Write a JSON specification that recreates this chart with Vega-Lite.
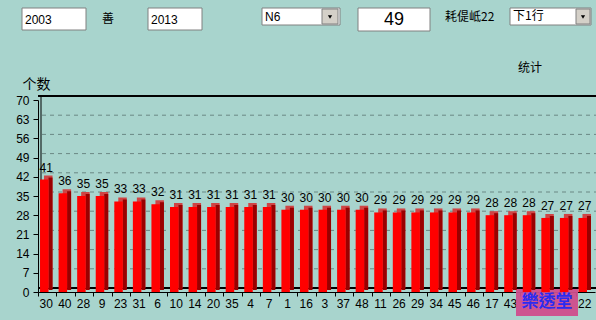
{
  "$schema": "https://vega.github.io/schema/vega-lite/v6.json",
  "width": 557,
  "height": 192,
  "autosize": {"type": "none"},
  "padding": {"left": 38, "top": 100, "right": 1, "bottom": 28},
  "background": "#a8d4cd",
  "config": {
    "view": {"stroke": null},
    "font": "Liberation Sans",
    "axis": {"labelFont": "Liberation Sans", "labelFontSize": 12, "labelColor": "#000", "domainColor": "#000", "tickColor": "#000", "grid": false},
    "axisX": {"bandPosition": 0, "labelOffset": -1, "tickSize": 4, "labelPadding": 2, "labelAngle": 0, "zindex": 1, "labelExpr": "indexof(['41','12','25'], datum.value) >= 0 ? '' : datum.label"},
    "axisY": {"tickSize": 5, "labelPadding": 4, "titleAngle": 0, "titleX": -16, "titleY": -9, "titleAlign": "left", "titleBaseline": "bottom", "titleFont": "Noto Sans CJK SC", "titleFontSize": 14, "titleFontWeight": "normal", "titleColor": "#000"}
  },
  "datasets": {
    "bars": [
      {"num": "30", "count": 41}, {"num": "40", "count": 36}, {"num": "28", "count": 35}, {"num": "9", "count": 35},
      {"num": "23", "count": 33}, {"num": "31", "count": 33}, {"num": "6", "count": 32}, {"num": "10", "count": 31},
      {"num": "14", "count": 31}, {"num": "20", "count": 31}, {"num": "35", "count": 31}, {"num": "4", "count": 31},
      {"num": "7", "count": 31}, {"num": "1", "count": 30}, {"num": "16", "count": 30}, {"num": "3", "count": 30},
      {"num": "37", "count": 30}, {"num": "48", "count": 30}, {"num": "11", "count": 29}, {"num": "26", "count": 29},
      {"num": "29", "count": 29}, {"num": "34", "count": 29}, {"num": "45", "count": 29}, {"num": "46", "count": 29},
      {"num": "17", "count": 28}, {"num": "43", "count": 28}, {"num": "41", "count": 28}, {"num": "12", "count": 27},
      {"num": "25", "count": 27}, {"num": "22", "count": 27}
    ],
    "grid": [{"level": 7}, {"level": 14}, {"level": 21}, {"level": 28}, {"level": 35}, {"level": 42}, {"level": 49}, {"level": 56}, {"level": 63}]
  },
  "layer": [
    {
      "data": {"values": [{"k": 1}]},
      "layer": [
        {
          "mark": {"type": "rect", "fill": "#ffffff", "stroke": "#808080", "strokeWidth": 1},
          "encoding": {
            "x": {"datum": 22, "type": "quantitative", "scale": {"domain": [38, 595], "nice": false, "zero": false}, "axis": null},
            "x2": {"datum": 86},
            "y": {"datum": 8, "type": "quantitative", "scale": {"domain": [292, 100], "nice": false, "zero": false}, "axis": null},
            "y2": {"datum": 30}
          }
        },
        {
          "mark": {"type": "rect", "fill": "#ffffff", "stroke": "#808080", "strokeWidth": 1},
          "encoding": {"x": {"datum": 148, "type": "quantitative"}, "x2": {"datum": 202}, "y": {"datum": 8, "type": "quantitative"}, "y2": {"datum": 30}}
        },
        {
          "mark": {"type": "rect", "fill": "#ffffff", "stroke": "#808080", "strokeWidth": 1},
          "encoding": {"x": {"datum": 262, "type": "quantitative"}, "x2": {"datum": 340}, "y": {"datum": 8, "type": "quantitative"}, "y2": {"datum": 25}}
        },
        {
          "mark": {"type": "rect", "fill": "#d4d0c8", "stroke": "#808080", "strokeWidth": 1},
          "encoding": {"x": {"datum": 322, "type": "quantitative"}, "x2": {"datum": 338}, "y": {"datum": 9, "type": "quantitative"}, "y2": {"datum": 24}}
        },
        {
          "mark": {"type": "rect", "fill": "#ffffff", "stroke": "#808080", "strokeWidth": 1},
          "encoding": {"x": {"datum": 358, "type": "quantitative"}, "x2": {"datum": 430}, "y": {"datum": 8, "type": "quantitative"}, "y2": {"datum": 31}}
        },
        {
          "mark": {"type": "rect", "fill": "#ffffff", "stroke": "#808080", "strokeWidth": 1},
          "encoding": {"x": {"datum": 510, "type": "quantitative"}, "x2": {"datum": 591}, "y": {"datum": 8, "type": "quantitative"}, "y2": {"datum": 25}}
        },
        {
          "mark": {"type": "rect", "fill": "#d4d0c8", "stroke": "#808080", "strokeWidth": 1},
          "encoding": {"x": {"datum": 576, "type": "quantitative"}, "x2": {"datum": 590}, "y": {"datum": 9, "type": "quantitative"}, "y2": {"datum": 24}}
        },
        {
          "mark": {"type": "point", "shape": "triangle-down", "filled": true, "color": "#000", "size": 18, "opacity": 1},
          "encoding": {"x": {"datum": 330, "type": "quantitative"}, "y": {"datum": 17, "type": "quantitative"}}
        },
        {
          "mark": {"type": "point", "shape": "triangle-down", "filled": true, "color": "#000", "size": 18, "opacity": 1},
          "encoding": {"x": {"datum": 583, "type": "quantitative"}, "y": {"datum": 17, "type": "quantitative"}}
        },
        {
          "data": {"values": [{"t": "2003"}]},
          "mark": {"type": "text", "align": "left", "baseline": "middle", "fontSize": 12, "color": "#000"},
          "encoding": {"x": {"datum": 25, "type": "quantitative"}, "y": {"datum": 19.5, "type": "quantitative"}, "text": {"field": "t"}}
        },
        {
          "data": {"values": [{"t": "善"}]},
          "mark": {"type": "text", "align": "center", "baseline": "middle", "fontSize": 12, "font": "Noto Sans CJK SC", "color": "#000"},
          "encoding": {"x": {"datum": 108, "type": "quantitative"}, "y": {"datum": 19, "type": "quantitative"}, "text": {"field": "t"}}
        },
        {
          "data": {"values": [{"t": "2013"}]},
          "mark": {"type": "text", "align": "left", "baseline": "middle", "fontSize": 12, "color": "#000"},
          "encoding": {"x": {"datum": 151, "type": "quantitative"}, "y": {"datum": 19.5, "type": "quantitative"}, "text": {"field": "t"}}
        },
        {
          "data": {"values": [{"t": "N6"}]},
          "mark": {"type": "text", "align": "left", "baseline": "middle", "fontSize": 12, "color": "#000"},
          "encoding": {"x": {"datum": 265, "type": "quantitative"}, "y": {"datum": 16.5, "type": "quantitative"}, "text": {"field": "t"}}
        },
        {
          "data": {"values": [{"t": "49"}]},
          "mark": {"type": "text", "align": "center", "baseline": "middle", "fontSize": 18, "color": "#000"},
          "encoding": {"x": {"datum": 394, "type": "quantitative"}, "y": {"datum": 19.5, "type": "quantitative"}, "text": {"field": "t"}}
        },
        {
          "data": {"values": [{"t": "耗偍岻22"}]},
          "mark": {"type": "text", "align": "left", "baseline": "middle", "fontSize": 12, "font": "Noto Sans CJK SC", "color": "#000"},
          "encoding": {"x": {"datum": 445, "type": "quantitative"}, "y": {"datum": 17, "type": "quantitative"}, "text": {"field": "t"}}
        },
        {
          "data": {"values": [{"t": "下1行"}]},
          "mark": {"type": "text", "align": "left", "baseline": "middle", "fontSize": 12, "font": "Noto Sans CJK SC", "color": "#000"},
          "encoding": {"x": {"datum": 513, "type": "quantitative"}, "y": {"datum": 16, "type": "quantitative"}, "text": {"field": "t"}}
        },
        {
          "data": {"values": [{"t": "统计"}]},
          "mark": {"type": "text", "align": "center", "baseline": "middle", "fontSize": 12, "font": "Noto Sans CJK SC", "color": "#000"},
          "encoding": {"x": {"datum": 530, "type": "quantitative"}, "y": {"datum": 68, "type": "quantitative"}, "text": {"field": "t"}}
        },
        {
          "mark": {"type": "rect", "fill": "#cf4d8c", "opacity": 0.95},
          "encoding": {"x": {"datum": 516, "type": "quantitative"}, "x2": {"datum": 578}, "y": {"datum": 288, "type": "quantitative"}, "y2": {"datum": 316}}
        },
        {
          "data": {"values": [{"t": "樂透堂"}]},
          "mark": {"type": "text", "align": "center", "baseline": "middle", "fontSize": 17, "font": "Noto Sans CJK TC", "fontWeight": "bold", "color": "#2b2bf0"},
          "encoding": {"x": {"datum": 547, "type": "quantitative"}, "y": {"datum": 302, "type": "quantitative"}, "text": {"field": "t"}}
        }
      ]
    },
    {
      "data": {"name": "bars"},
      "layer": [
        {
          "data": {"name": "grid"},
          "mark": {"type": "rule", "color": "#6a8884", "strokeDash": [4, 4], "xOffset": 3, "yOffset": -4},
          "encoding": {"y": {"field": "level", "type": "quantitative", "scale": {"domain": [0, 70], "nice": false}, "axis": {"orient": "left", "values": [0, 7, 14, 21, 28, 35, 42, 49, 56, 63, 70], "title": "个数"}}}
        },
        {
          "mark": {"type": "rule", "color": "#000", "strokeWidth": 1.5, "xOffset": 3, "yOffset": -4},
          "encoding": {"y": {"datum": 70, "type": "quantitative", "axis": {"orient": "left", "values": [0, 7, 14, 21, 28, 35, 42, 49, 56, 63, 70], "title": "个数"}}}
        },
        {
          "mark": {"type": "rule", "color": "#000", "xOffset": 3, "yOffset": -4},
          "encoding": {"y": {"datum": 0, "type": "quantitative", "axis": {"orient": "left", "values": [0, 7, 14, 21, 28, 35, 42, 49, 56, 63, 70], "title": "个数"}}}
        },
        {
          "transform": [{"filter": "datum.num === '30'"}],
          "mark": {"type": "rule", "color": "#000", "xOffset": 3, "yOffset": -4, "y2Offset": -4},
          "encoding": {
            "x": {"field": "num", "type": "nominal", "sort": null, "bandPosition": 0, "title": null, "scale": {"paddingInner": 0, "paddingOuter": 0}, "axis": {"orient": "bottom"}},
            "y": {"datum": 0, "type": "quantitative", "axis": {"orient": "left", "values": [0, 7, 14, 21, 28, 35, 42, 49, 56, 63, 70], "title": "个数"}},
            "y2": {"datum": 70}
          }
        },
        {
          "mark": {"type": "bar", "width": 8.5, "color": "#d04444", "xOffset": 1, "yOffset": -4, "y2Offset": -4},
          "encoding": {
            "x": {"field": "num", "type": "nominal", "sort": null, "title": null, "axis": {"orient": "bottom"}},
            "y": {"field": "count", "type": "quantitative", "axis": {"orient": "left", "values": [0, 7, 14, 21, 28, 35, 42, 49, 56, 63, 70], "title": "个数"}},
            "y2": {"datum": 0}
          }
        },
        {
          "mark": {"type": "bar", "width": 4, "color": "#9a0000", "xOffset": 3.25, "yOffset": -2, "y2Offset": -2},
          "encoding": {
            "x": {"field": "num", "type": "nominal", "sort": null, "title": null, "axis": {"orient": "bottom"}},
            "y": {"field": "count", "type": "quantitative", "axis": {"orient": "left", "values": [0, 7, 14, 21, 28, 35, 42, 49, 56, 63, 70], "title": "个数"}},
            "y2": {"datum": 0}
          }
        },
        {
          "mark": {"type": "bar", "width": 8.5, "color": "#ff0000", "xOffset": -3},
          "encoding": {
            "x": {"field": "num", "type": "nominal", "sort": null, "title": null, "axis": {"orient": "bottom"}},
            "y": {"field": "count", "type": "quantitative", "axis": {"orient": "left", "values": [0, 7, 14, 21, 28, 35, 42, 49, 56, 63, 70], "title": "个数"}},
            "y2": {"datum": 0}
          }
        },
        {
          "mark": {"type": "text", "fontSize": 12, "color": "#000", "baseline": "bottom", "xOffset": -1, "yOffset": -5},
          "encoding": {
            "x": {"field": "num", "type": "nominal", "sort": null, "title": null, "axis": {"orient": "bottom"}},
            "y": {"field": "count", "type": "quantitative", "axis": {"orient": "left", "values": [0, 7, 14, 21, 28, 35, 42, 49, 56, 63, 70], "title": "个数"}},
            "text": {"field": "count", "type": "quantitative"}
          }
        }
      ]
    }
  ],
  "resolve": {"scale": {"x": "independent", "y": "independent"}, "axis": {"x": "independent", "y": "independent"}}
}
